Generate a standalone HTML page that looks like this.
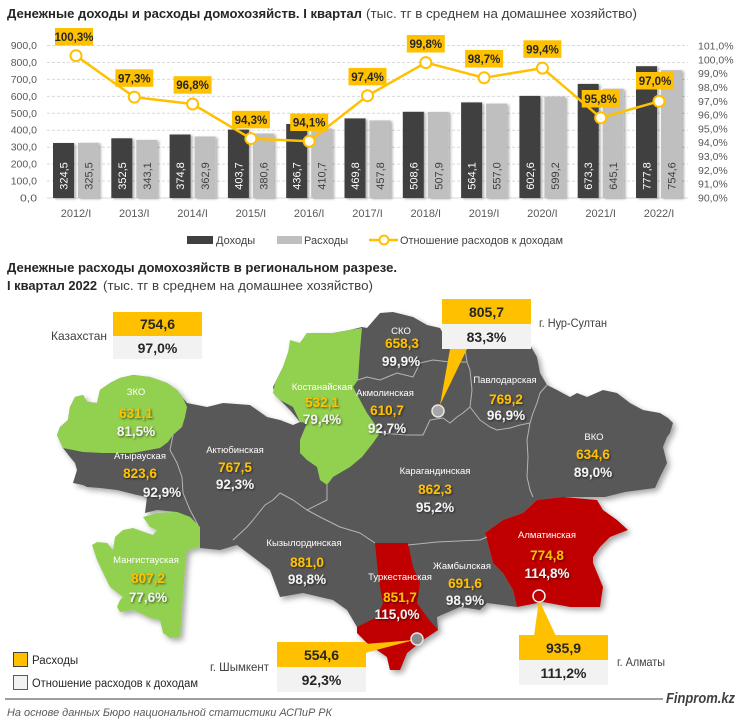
<!DOCTYPE html>
<html><head><meta charset="utf-8"><style>
html,body{margin:0;padding:0;background:#fff;}
svg{display:block;}
text{font-family:"Liberation Sans","DejaVu Sans",sans-serif;}
</style></head><body>
<svg width="740" height="724" viewBox="0 0 740 724" xmlns="http://www.w3.org/2000/svg">
<defs>
<filter id="sh" x="-10%" y="-10%" width="120%" height="120%">
<feDropShadow dx="3" dy="3" stdDeviation="3" flood-color="#000" flood-opacity="0.35"/>
</filter>
<filter id="bs" x="-10%" y="-10%" width="130%" height="120%">
<feDropShadow dx="2" dy="1" stdDeviation="1.2" flood-color="#000" flood-opacity="0.3"/>
</filter>
<filter id="ts" x="-20%" y="-40%" width="140%" height="180%">
<feDropShadow dx="1" dy="1" stdDeviation="1" flood-color="#000" flood-opacity="0.6"/>
</filter>
</defs>

<!-- ===== TOP CHART ===== -->
<text x="7" y="18" font-size="13" font-weight="bold" fill="#262626" textLength="355" lengthAdjust="spacingAndGlyphs">Денежные доходы и расходы домохозяйств. I квартал</text>
<text x="366" y="18" font-size="13" fill="#404040" textLength="271" lengthAdjust="spacingAndGlyphs">(тыс. тг в среднем на домашнее хозяйство)</text>

<!-- gridlines -->
<g stroke="#d9d9d9" stroke-width="1" stroke-dasharray="3,2">
<line x1="47" x2="688" y1="181.1" y2="181.1"/>
<line x1="47" x2="688" y1="164.1" y2="164.1"/>
<line x1="47" x2="688" y1="147.2" y2="147.2"/>
<line x1="47" x2="688" y1="130.2" y2="130.2"/>
<line x1="47" x2="688" y1="113.3" y2="113.3"/>
<line x1="47" x2="688" y1="96.4" y2="96.4"/>
<line x1="47" x2="688" y1="79.4" y2="79.4"/>
<line x1="47" x2="688" y1="62.5" y2="62.5"/>
<line x1="47" x2="688" y1="45.5" y2="45.5"/>
</g>
<line x1="47" x2="688" y1="198" y2="198" stroke="#d9d9d9" stroke-width="1"/>

<!-- left axis -->
<g font-size="10.5" fill="#595959" text-anchor="end">
<text x="37" y="201.5" textLength="17" lengthAdjust="spacingAndGlyphs">0,0</text>
<text x="37" y="184.6">100,0</text>
<text x="37" y="167.6">200,0</text>
<text x="37" y="150.7">300,0</text>
<text x="37" y="133.7">400,0</text>
<text x="37" y="116.8">500,0</text>
<text x="37" y="99.9">600,0</text>
<text x="37" y="82.9">700,0</text>
<text x="37" y="66">800,0</text>
<text x="37" y="49">900,0</text>
</g>
<!-- right axis -->
<g font-size="10.5" fill="#595959">
<text x="698" y="201.5">90,0%</text>
<text x="698" y="187.7">91,0%</text>
<text x="698" y="173.9">92,0%</text>
<text x="698" y="160">93,0%</text>
<text x="698" y="146.2">94,0%</text>
<text x="698" y="132.4">95,0%</text>
<text x="698" y="118.6">96,0%</text>
<text x="698" y="104.8">97,0%</text>
<text x="698" y="90.9">98,0%</text>
<text x="698" y="77.1">99,0%</text>
<text x="698" y="63.3">100,0%</text>
<text x="698" y="49.5">101,0%</text>
</g>

<!-- bars -->
<g filter="url(#bs)">
<g fill="#404040">
<rect x="53" y="143" width="21" height="55"/>
<rect x="111.3" y="138.3" width="21" height="59.7"/>
<rect x="169.6" y="134.5" width="21" height="63.5"/>
<rect x="227.9" y="129.6" width="21" height="68.4"/>
<rect x="286.2" y="124" width="21" height="74"/>
<rect x="344.5" y="118.4" width="21" height="79.6"/>
<rect x="402.8" y="111.8" width="21" height="86.2"/>
<rect x="461.1" y="102.4" width="21" height="95.6"/>
<rect x="519.4" y="95.9" width="21" height="102.1"/>
<rect x="577.7" y="83.9" width="21" height="114.1"/>
<rect x="636" y="66.2" width="21" height="131.8"/>
</g>
<g fill="#bfbfbf">
<rect x="78" y="142.8" width="21" height="55.2"/>
<rect x="136.3" y="139.9" width="21" height="58.1"/>
<rect x="194.6" y="136.5" width="21" height="61.5"/>
<rect x="252.9" y="133.5" width="21" height="64.5"/>
<rect x="311.2" y="128.4" width="21" height="69.6"/>
<rect x="369.5" y="120.4" width="21" height="77.6"/>
<rect x="427.8" y="111.9" width="21" height="86.1"/>
<rect x="486.1" y="103.6" width="21" height="94.4"/>
<rect x="544.4" y="96.5" width="21" height="101.5"/>
<rect x="602.7" y="88.7" width="21" height="109.3"/>
<rect x="661" y="70.1" width="21" height="127.9"/>
</g>
</g>

<!-- bar value labels -->
<g font-size="11" text-anchor="middle" fill="#ffffff">
<text transform="translate(67.5,176) rotate(-90)">324,5</text>
<text transform="translate(125.8,176) rotate(-90)">352,5</text>
<text transform="translate(184.1,176) rotate(-90)">374,8</text>
<text transform="translate(242.4,176) rotate(-90)">403,7</text>
<text transform="translate(300.7,176) rotate(-90)">436,7</text>
<text transform="translate(359,176) rotate(-90)">469,8</text>
<text transform="translate(417.3,176) rotate(-90)">508,6</text>
<text transform="translate(475.6,176) rotate(-90)">564,1</text>
<text transform="translate(533.9,176) rotate(-90)">602,6</text>
<text transform="translate(592.2,176) rotate(-90)">673,3</text>
<text transform="translate(650.5,176) rotate(-90)">777,8</text>
</g>
<g font-size="11" text-anchor="middle" fill="#404040">
<text transform="translate(92.5,176) rotate(-90)">325,5</text>
<text transform="translate(150.8,176) rotate(-90)">343,1</text>
<text transform="translate(209.1,176) rotate(-90)">362,9</text>
<text transform="translate(267.4,176) rotate(-90)">380,6</text>
<text transform="translate(325.7,176) rotate(-90)">410,7</text>
<text transform="translate(384,176) rotate(-90)">457,8</text>
<text transform="translate(442.3,176) rotate(-90)">507,9</text>
<text transform="translate(500.6,176) rotate(-90)">557,0</text>
<text transform="translate(558.9,176) rotate(-90)">599,2</text>
<text transform="translate(617.2,176) rotate(-90)">645,1</text>
<text transform="translate(675.5,176) rotate(-90)">754,6</text>
</g>

<!-- categories -->
<g font-size="11" fill="#595959" text-anchor="middle">
<text x="76" y="217">2012/I</text>
<text x="134.3" y="217">2013/I</text>
<text x="192.6" y="217">2014/I</text>
<text x="250.9" y="217">2015/I</text>
<text x="309.2" y="217">2016/I</text>
<text x="367.5" y="217">2017/I</text>
<text x="425.8" y="217">2018/I</text>
<text x="484.1" y="217">2019/I</text>
<text x="542.4" y="217">2020/I</text>
<text x="600.7" y="217">2021/I</text>
<text x="659" y="217">2022/I</text>
</g>

<!-- ratio line -->
<polyline fill="none" stroke="#FFC000" stroke-width="2.5" stroke-linejoin="round"
 points="76,55.7 134.3,97.1 192.6,104 250.9,138.6 309.2,141.3 367.5,95.7 425.8,62.6 484.1,77.8 542.4,68.1 600.7,117.8 659,101.3"/>
<g fill="#fff" stroke="#FFC000" stroke-width="2">
<circle cx="76" cy="55.7" r="5.5"/>
<circle cx="134.3" cy="97.1" r="5.5"/>
<circle cx="192.6" cy="104" r="5.5"/>
<circle cx="250.9" cy="138.6" r="5.5"/>
<circle cx="309.2" cy="141.3" r="5.5"/>
<circle cx="367.5" cy="95.7" r="5.5"/>
<circle cx="425.8" cy="62.6" r="5.5"/>
<circle cx="484.1" cy="77.8" r="5.5"/>
<circle cx="542.4" cy="68.1" r="5.5"/>
<circle cx="600.7" cy="117.8" r="5.5"/>
<circle cx="659" cy="101.3" r="5.5"/>
</g>
<!-- ratio label boxes -->
<g fill="#FFC000">
<rect x="55" y="28" width="38" height="17.5"/>
<rect x="115.3" y="69.3" width="38" height="17.5"/>
<rect x="173.6" y="76.2" width="38" height="17.5"/>
<rect x="231.9" y="110.8" width="38" height="17.5"/>
<rect x="290.2" y="113.5" width="38" height="17.5"/>
<rect x="348.5" y="67.9" width="38" height="17.5"/>
<rect x="406.8" y="35" width="38" height="17.5"/>
<rect x="465.1" y="50" width="38" height="17.5"/>
<rect x="523.4" y="40.3" width="38" height="17.5"/>
<rect x="581.7" y="90" width="38" height="17.5"/>
<rect x="636" y="72" width="38" height="17.5"/>
</g>
<g font-size="11.5" font-weight="bold" fill="#262626" text-anchor="middle">
<text x="74" y="41">100,3%</text>
<text x="134.3" y="82.3">97,3%</text>
<text x="192.6" y="89.2">96,8%</text>
<text x="250.9" y="123.8">94,3%</text>
<text x="309.2" y="126.5">94,1%</text>
<text x="367.5" y="80.9">97,4%</text>
<text x="425.8" y="48">99,8%</text>
<text x="484.1" y="63">98,7%</text>
<text x="542.4" y="53.3">99,4%</text>
<text x="600.7" y="103">95,8%</text>
<text x="655" y="85">97,0%</text>
</g>

<!-- legend -->
<rect x="187" y="236" width="26" height="8" fill="#404040"/>
<text x="216" y="244" font-size="11" fill="#404040">Доходы</text>
<rect x="277" y="236" width="25" height="8" fill="#bfbfbf"/>
<text x="304" y="244" font-size="11" fill="#404040">Расходы</text>
<line x1="369" x2="398" y1="240" y2="240" stroke="#FFC000" stroke-width="2.5"/>
<circle cx="384" cy="240" r="4.5" fill="#fff" stroke="#FFC000" stroke-width="2"/>
<text x="400" y="244" font-size="11" fill="#404040" textLength="163" lengthAdjust="spacingAndGlyphs">Отношение расходов к доходам</text>

<!-- ===== MAP SECTION ===== -->
<text x="7" y="272" font-size="13" font-weight="bold" fill="#262626" textLength="390" lengthAdjust="spacingAndGlyphs">Денежные расходы домохозяйств в региональном разрезе.</text>
<text x="7" y="290" font-size="13" font-weight="bold" fill="#262626" textLength="90" lengthAdjust="spacingAndGlyphs">I квартал 2022</text>
<text x="103" y="290" font-size="13" fill="#404040" textLength="270" lengthAdjust="spacingAndGlyphs">(тыс. тг в среднем на домашнее хозяйство)</text>

<g filter="url(#sh)">
<!-- base dark country -->
<polygon fill="#595959" points="57,435 60,427 68,420 70,407 75,397 83,395 87,402 97,403 100,390 110,383 120,378 133,375 150,377 167,383 177,390 183,398 187,403 197,405 207,407 223,403 250,405 267,417 280,420 293,425 300,422 290,410 275,395 273,387 283,367 290,347 300,343 307,333 333,333 350,330 362,327 367,328 380,313 393,312 413,317 427,325 440,328 445,337 490,342 530,345 537,357 540,373 547,385 557,390 570,397 577,393 587,397 603,390 617,393 630,403 643,410 660,413 668,418 673,423 670,433 667,437 663,447 667,463 660,477 655,488 640,490 625,492 605,497 563,497 537,500 523,513 503,520 485,533 487,540 493,563 503,573 513,590 517,607 487,603 480,610 460,607 437,617 438,630 423,640 407,653 400,670 390,670 387,657 367,643 357,633 357,627 347,610 333,600 303,593 280,597 270,570 253,557 237,545 220,550 200,548 200,527 190,517 177,512 157,510 145,513 147,497 137,495 117,490 100,488 87,487 83,485 73,483 77,470 75,463 70,457 63,448"/>
<!-- ZKO -->
<polygon fill="#92D050" points="57,435 60,427 68,420 70,407 75,397 83,395 87,402 97,403 100,390 110,383 120,378 133,375 150,377 167,383 177,390 183,398 187,407 185,417 182,427 173,435 168,442 160,448 133,453 103,453 83,452 63,448"/>
<!-- Kostanay -->
<polygon fill="#92D050" points="300,422 293,407 280,400 273,393 275,383 283,367 288,353 290,340 300,343 307,333 333,333 350,330 362,328 360,350 358,380 353,387 360,400 367,413 377,427 380,433 373,443 362,457 350,467 333,477 327,485 320,480 317,467 307,460 300,453 300,440 307,423"/>
<!-- Mangystau -->
<polygon fill="#92D050" points="143,517 157,513 177,512 190,517 200,527 200,547 187,550 185,567 180,637 170,638 163,633 160,620 150,618 140,613 133,610 120,612 117,607 120,600 123,597 110,587 105,577 97,560 92,545 97,542 107,543 113,550 115,537 123,530 133,528 147,533 153,535 157,530 150,527"/>
<!-- Turkestan -->
<polygon fill="#C00000" points="375,543 408,543 413,567 420,583 417,603 427,617 438,630 423,640 407,653 400,670 390,670 387,657 367,643 357,633 357,627 377,617 383,603 380,587 377,563"/>
<!-- Almaty -->
<polygon fill="#C00000" points="537,500 563,497 597,500 603,510 617,520 628,530 610,537 600,547 593,557 593,563 603,587 600,607 570,607 543,602 517,607 513,590 503,573 493,563 487,540 485,533 503,520 523,513"/>
</g>

<!-- internal borders -->
<g fill="none" stroke="#b4b4b4" stroke-width="1" stroke-linejoin="round">
<polyline points="173,435 170,450 177,463 182,477 183,493 190,510 198,525"/>
<polyline points="233,540 247,527 253,520 265,505 273,500 280,493 293,500 307,510 320,517 340,527 360,533 375,543"/>
<polyline points="327,485 327,500 307,510"/>
<polyline points="408,545 437,542 480,540 487,537"/>
<polyline points="380,433 407,435 423,435 430,420 443,418 450,423 457,417 463,413 470,407 480,420 490,427 497,430 510,428 520,425 530,423"/>
<polyline points="530,423 527,440 528,457 527,477 530,490 533,497"/>
<polyline points="530,423 533,413 537,403 540,393 547,385"/>
<polyline points="470,407 472,390 470,370 467,362 465,350 462,340"/>
<polyline points="358,380 367,377 380,380 397,373 413,377 420,363 433,360 450,362 467,362"/>
</g>

<!-- pointers & city markers -->
<polygon fill="#FFC000" points="450,349 467,349 440,405"/>
<circle cx="438" cy="411" r="6" fill="#a6a6a6" stroke="#e6e6e6" stroke-width="1.5"/>
<polygon fill="#FFC000" points="365,644 365,653 414,640"/>
<circle cx="417" cy="639" r="6" fill="#8c8c8c" stroke="#e6e6e6" stroke-width="1.5"/>
<polygon fill="#FFC000" points="534,636 556,636 539,600"/>
<circle cx="539" cy="596" r="6" fill="#C00000" stroke="#f2f2f2" stroke-width="1.5"/>

<!-- region labels -->
<g text-anchor="middle">
<g font-size="9.5" fill="#ffffff">
<text x="136" y="395">ЗКО</text>
<text x="322" y="390">Костанайская</text>
<text x="385" y="396">Акмолинская</text>
<text x="401" y="334">СКО</text>
<text x="505" y="383">Павлодарская</text>
<text x="594" y="440">ВКО</text>
<text x="235" y="453">Актюбинская</text>
<text x="140" y="459">Атырауская</text>
<text x="435" y="474">Карагандинская</text>
<text x="304" y="546">Кызылординская</text>
<text x="146" y="563">Мангистауская</text>
<text x="400" y="580">Туркестанская</text>
<text x="462" y="569">Жамбылская</text>
<text x="547" y="538">Алматинская</text>
</g>
<g font-size="13.5" font-weight="bold" fill="#FFC000" filter="url(#ts)">
<text x="136" y="418">631,1</text>
<text x="322" y="407">532,1</text>
<text x="387" y="415">610,7</text>
<text x="402" y="348">658,3</text>
<text x="506" y="404">769,2</text>
<text x="593" y="459">634,6</text>
<text x="235" y="472">767,5</text>
<text x="140" y="478">823,6</text>
<text x="435" y="494">862,3</text>
<text x="307" y="567">881,0</text>
<text x="148" y="583">807,2</text>
<text x="400" y="602">851,7</text>
<text x="465" y="588">691,6</text>
<text x="547" y="560">774,8</text>
</g>
<g font-size="13.5" font-weight="bold" fill="#f2f2f2" filter="url(#ts)">
<text x="136" y="436">81,5%</text>
<text x="322" y="424">79,4%</text>
<text x="387" y="433">92,7%</text>
<text x="401" y="366">99,9%</text>
<text x="506" y="420">96,9%</text>
<text x="593" y="477">89,0%</text>
<text x="235" y="489">92,3%</text>
<text x="162" y="497">92,9%</text>
<text x="435" y="512">95,2%</text>
<text x="307" y="584">98,8%</text>
<text x="148" y="602">77,6%</text>
<text x="397" y="619">115,0%</text>
<text x="465" y="605">98,9%</text>
<text x="547" y="578">114,8%</text>
</g>
</g>

<!-- callout boxes -->
<rect x="113" y="312" width="89" height="24" fill="#FFC000"/>
<rect x="113" y="336" width="89" height="23" fill="#f2f2f2"/>
<text x="157.5" y="329" font-size="14" font-weight="bold" fill="#262626" text-anchor="middle">754,6</text>
<text x="157.5" y="353" font-size="14" font-weight="bold" fill="#262626" text-anchor="middle">97,0%</text>
<text x="51" y="340" font-size="12" fill="#404040" textLength="56" lengthAdjust="spacingAndGlyphs">Казахстан</text>

<rect x="442" y="299" width="89" height="25" fill="#FFC000"/>
<rect x="442" y="324" width="89" height="25" fill="#f2f2f2"/>
<text x="486.5" y="317" font-size="14" font-weight="bold" fill="#262626" text-anchor="middle">805,7</text>
<text x="486.5" y="342" font-size="14" font-weight="bold" fill="#262626" text-anchor="middle">83,3%</text>
<text x="539" y="327" font-size="12" fill="#404040" textLength="68" lengthAdjust="spacingAndGlyphs">г. Нур-Султан</text>

<rect x="277" y="642" width="89" height="25" fill="#FFC000"/>
<rect x="277" y="667" width="89" height="25" fill="#f2f2f2"/>
<text x="321.5" y="660" font-size="14" font-weight="bold" fill="#262626" text-anchor="middle">554,6</text>
<text x="321.5" y="685" font-size="14" font-weight="bold" fill="#262626" text-anchor="middle">92,3%</text>
<text x="269" y="671" font-size="12" fill="#404040" text-anchor="end" textLength="59" lengthAdjust="spacingAndGlyphs">г. Шымкент</text>

<rect x="519" y="635" width="89" height="25" fill="#FFC000"/>
<rect x="519" y="660" width="89" height="25" fill="#f2f2f2"/>
<text x="563.5" y="653" font-size="14" font-weight="bold" fill="#262626" text-anchor="middle">935,9</text>
<text x="563.5" y="678" font-size="14" font-weight="bold" fill="#262626" text-anchor="middle">111,2%</text>
<text x="617" y="666" font-size="12" fill="#404040" textLength="48" lengthAdjust="spacingAndGlyphs">г. Алматы</text>

<!-- bottom legend -->
<rect x="13.5" y="652.5" width="14" height="14" fill="#FFC000" stroke="#404040" stroke-width="1"/>
<text x="32" y="664" font-size="11.5" fill="#262626">Расходы</text>
<rect x="13.5" y="675.5" width="14" height="14" fill="#f2f2f2" stroke="#595959" stroke-width="1"/>
<text x="32" y="687" font-size="11.5" fill="#262626" textLength="166" lengthAdjust="spacingAndGlyphs">Отношение расходов к доходам</text>

<!-- footer -->
<line x1="5" x2="663" y1="699" y2="699" stroke="#7f7f7f" stroke-width="1.5"/>
<text x="666" y="703" font-size="15" font-weight="bold" font-style="italic" fill="#404040" textLength="69" lengthAdjust="spacingAndGlyphs">Finprom.kz</text>
<text x="7" y="716" font-size="11" font-style="italic" fill="#595959" textLength="325" lengthAdjust="spacingAndGlyphs">На основе данных Бюро национальной статистики АСПиР РК</text>
</svg>
</body></html>
